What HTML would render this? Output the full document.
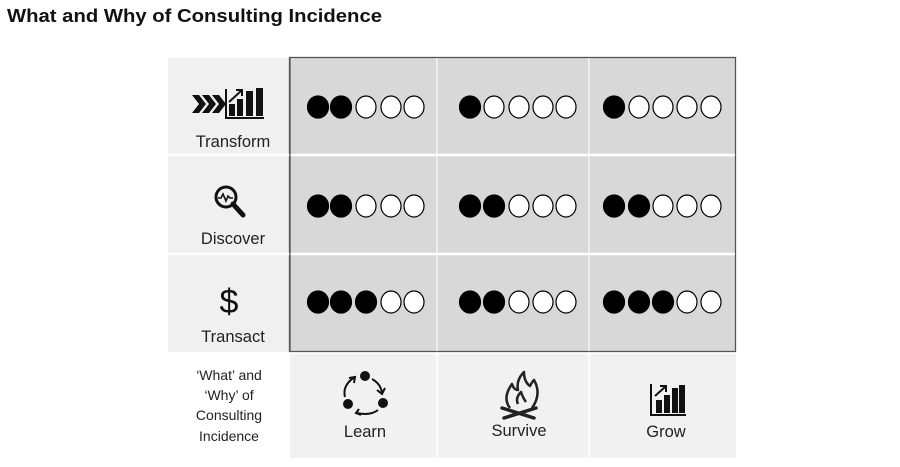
<!DOCTYPE html>
<html><head><style>
body{margin:0;background:#fff;width:900px;height:467px;overflow:hidden}
svg{display:block}
text{font-family:"Liberation Sans",sans-serif}
</style></head><body>
<svg width="900" height="467" viewBox="0 0 900 467" xmlns="http://www.w3.org/2000/svg">
<text x="7" y="22" font-size="18.5" font-weight="bold" fill="#111" textLength="375" lengthAdjust="spacingAndGlyphs">What and Why of Consulting Incidence</text>
<rect x="168" y="58" width="121" height="294" fill="#f0f0f0"/>
<rect x="290" y="354" width="446" height="104" fill="#f1f1f1"/>
<rect x="289.5" y="57.5" width="446" height="294" fill="#d8d8d8" stroke="#555" stroke-width="1.3"/>
<line x1="437" y1="58" x2="437" y2="351" stroke="#f4f4f4" stroke-width="1.5"/>
<line x1="589" y1="58" x2="589" y2="351" stroke="#f4f4f4" stroke-width="1.5"/>
<line x1="437" y1="354" x2="437" y2="458" stroke="#fff" stroke-width="1.5"/>
<line x1="589" y1="354" x2="589" y2="458" stroke="#fff" stroke-width="1.5"/>
<line x1="168" y1="155" x2="735" y2="155" stroke="#fff" stroke-width="2.5"/>
<line x1="168" y1="254" x2="735" y2="254" stroke="#fff" stroke-width="2.5"/>
<line x1="290" y1="58" x2="290" y2="352" stroke="#555" stroke-width="1.3"/>
<g stroke="#000" stroke-width="1.2">
<g transform="translate(0,107)">
<ellipse cx="318" cy="0" rx="10.5" ry="11" fill="#000"/><ellipse cx="341" cy="0" rx="10.5" ry="11" fill="#000"/><ellipse cx="366" cy="0" rx="10" ry="11" fill="#fff"/><ellipse cx="391" cy="0" rx="10" ry="11" fill="#fff"/><ellipse cx="414" cy="0" rx="10" ry="11" fill="#fff"/>
<ellipse cx="470" cy="0" rx="10.5" ry="11" fill="#000"/><ellipse cx="494" cy="0" rx="10" ry="11" fill="#fff"/><ellipse cx="519" cy="0" rx="10" ry="11" fill="#fff"/><ellipse cx="543" cy="0" rx="10" ry="11" fill="#fff"/><ellipse cx="566" cy="0" rx="10" ry="11" fill="#fff"/>
<ellipse cx="614" cy="0" rx="10.5" ry="11" fill="#000"/><ellipse cx="639" cy="0" rx="10" ry="11" fill="#fff"/><ellipse cx="663" cy="0" rx="10" ry="11" fill="#fff"/><ellipse cx="687" cy="0" rx="10" ry="11" fill="#fff"/><ellipse cx="711" cy="0" rx="10" ry="11" fill="#fff"/>
</g>
<g transform="translate(0,206)">
<ellipse cx="318" cy="0" rx="10.5" ry="11" fill="#000"/><ellipse cx="341" cy="0" rx="10.5" ry="11" fill="#000"/><ellipse cx="366" cy="0" rx="10" ry="11" fill="#fff"/><ellipse cx="391" cy="0" rx="10" ry="11" fill="#fff"/><ellipse cx="414" cy="0" rx="10" ry="11" fill="#fff"/>
<ellipse cx="470" cy="0" rx="10.5" ry="11" fill="#000"/><ellipse cx="494" cy="0" rx="10.5" ry="11" fill="#000"/><ellipse cx="519" cy="0" rx="10" ry="11" fill="#fff"/><ellipse cx="543" cy="0" rx="10" ry="11" fill="#fff"/><ellipse cx="566" cy="0" rx="10" ry="11" fill="#fff"/>
<ellipse cx="614" cy="0" rx="10.5" ry="11" fill="#000"/><ellipse cx="639" cy="0" rx="10.5" ry="11" fill="#000"/><ellipse cx="663" cy="0" rx="10" ry="11" fill="#fff"/><ellipse cx="687" cy="0" rx="10" ry="11" fill="#fff"/><ellipse cx="711" cy="0" rx="10" ry="11" fill="#fff"/>
</g>
<g transform="translate(0,302)">
<ellipse cx="318" cy="0" rx="10.5" ry="11" fill="#000"/><ellipse cx="341" cy="0" rx="10.5" ry="11" fill="#000"/><ellipse cx="366" cy="0" rx="10.5" ry="11" fill="#000"/><ellipse cx="391" cy="0" rx="10" ry="11" fill="#fff"/><ellipse cx="414" cy="0" rx="10" ry="11" fill="#fff"/>
<ellipse cx="470" cy="0" rx="10.5" ry="11" fill="#000"/><ellipse cx="494" cy="0" rx="10.5" ry="11" fill="#000"/><ellipse cx="519" cy="0" rx="10" ry="11" fill="#fff"/><ellipse cx="543" cy="0" rx="10" ry="11" fill="#fff"/><ellipse cx="566" cy="0" rx="10" ry="11" fill="#fff"/>
<ellipse cx="614" cy="0" rx="10.5" ry="11" fill="#000"/><ellipse cx="639" cy="0" rx="10.5" ry="11" fill="#000"/><ellipse cx="663" cy="0" rx="10.5" ry="11" fill="#000"/><ellipse cx="687" cy="0" rx="10" ry="11" fill="#fff"/><ellipse cx="711" cy="0" rx="10" ry="11" fill="#fff"/>
</g>
</g>
<g fill="#222" font-size="16.5" text-anchor="middle">
<text x="233" y="147">Transform</text>
<text x="233" y="244">Discover</text>
<text x="233" y="342">Transact</text>
<text x="365" y="437">Learn</text>
<text x="519" y="436">Survive</text>
<text x="666" y="437">Grow</text>
</g>
<g fill="#222" font-size="14" text-anchor="middle">
<text x="229" y="380">‘What’ and</text>
<text x="229" y="400">‘Why’ of</text>
<text x="229" y="420">Consulting</text>
<text x="229" y="441">Incidence</text>
</g>
<g fill="#111">
<path d="M192 95l7 0 7 9-7 9-7 0 7-9z"/><path d="M202 95l7 0 7 9-7 9-7 0 7-9z"/><path d="M212 95l7 0 7 9-7 9-7 0 7-9z"/>
<rect x="229" y="104" width="6" height="12"/><rect x="237" y="99" width="6" height="17"/><rect x="246" y="91" width="7" height="25"/><rect x="256" y="88" width="7" height="28"/>
<rect x="226" y="117" width="38" height="2"/><rect x="225" y="89" width="2" height="30"/>
</g>
<path d="M229 102l12-11M236 90h6v6" stroke="#111" stroke-width="2" fill="none"/>
<circle cx="226" cy="197" r="10" fill="none" stroke="#111" stroke-width="3"/>
<path d="M218 198h3l2-4 3 7 2-5 2 2h3" stroke="#111" stroke-width="1.6" fill="none"/>
<path d="M233 204l10 11" stroke="#111" stroke-width="5" stroke-linecap="round"/>
<text x="229" y="313" font-size="34" text-anchor="middle" fill="#111">$</text>
<g fill="#111"><circle cx="365" cy="376" r="5"/><circle cx="383" cy="403" r="5"/><circle cx="348" cy="404" r="5"/></g>
<g stroke="#111" stroke-width="2" fill="none">
<path d="M372 379q9 5 10 14"/><path d="M377 390l5 4 3-6"/>
<path d="M378 410q-8 6-21 3"/><path d="M359 409l-3 4 5 2"/>
<path d="M345 397q-3-12 10-20"/><path d="M349 378l6-1-1 6"/>
</g>
<g stroke="#222" stroke-width="2.5" fill="none" stroke-linejoin="round">
<path d="M510 408q-8-10 2-24q2 6 6 6q-2-10 6-18q0 10 6 14q2-4 4-6q8 14-2 28"/>
<path d="M518 404q-3-6 3-12q2 6 5 10"/>
</g>
<path d="M502 408l32 10M536 408l-32 10" stroke="#222" stroke-width="3.5" stroke-linecap="round"/>
<g fill="#111">
<rect x="650" y="384" width="2" height="32"/><rect x="650" y="414" width="36" height="2"/>
<rect x="656" y="400" width="6" height="13"/><rect x="664" y="395" width="6" height="18"/><rect x="672" y="388" width="6" height="25"/><rect x="679" y="385" width="6" height="28"/>
</g>
<path d="M655 396l10-9M660 386h6v6" stroke="#111" stroke-width="2" fill="none"/>
</svg>
</body></html>
